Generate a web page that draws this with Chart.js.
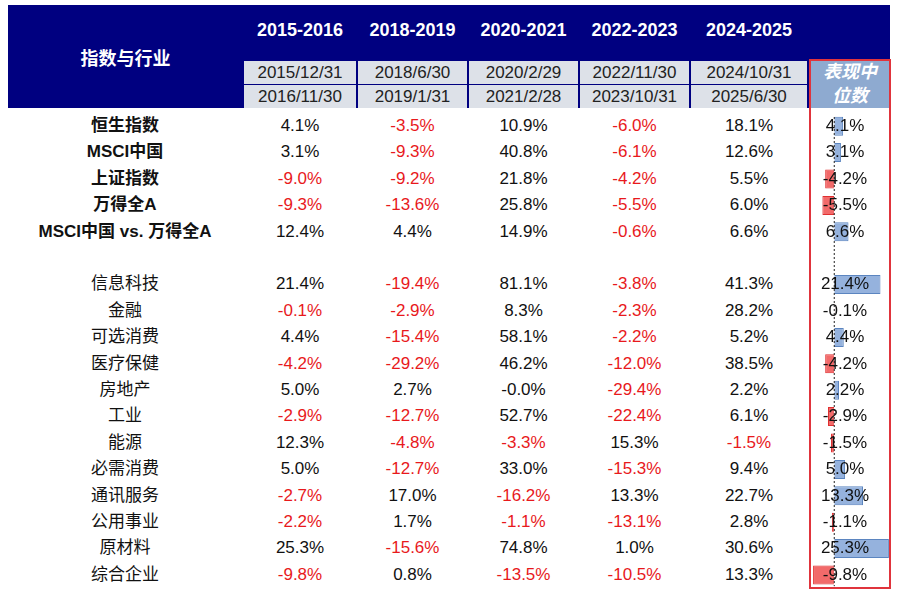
<!DOCTYPE html>
<html>
<head>
<meta charset="utf-8">
<script src="https://cdn.jsdelivr.net/npm/chart.js@4"></script>
<style>
body{margin:0;background:#fff;font-family:"Liberation Sans","Noto Sans CJK SC",sans-serif;}
#wrap{position:relative;width:900px;height:601px;}
.a{position:absolute;text-align:center;white-space:nowrap;}
.hd{background:#000080;}
.w{color:#fff;font-weight:bold;}
.gr{background:#dde1e8;color:#222;font-size:17px;line-height:24px;}
.v{font-size:17px;color:#111;line-height:26px;}
.neg{color:#e8191c;}
.lbl{font-size:17px;color:#111;line-height:26px;width:230px;left:10px;}
</style>
</head>
<body>
<div id="wrap"></div>
<script>
// 表格数据
const periods = [
    { years: '2015-2016', d1: '2015/12/31', d2: '2016/11/30' },
    { years: '2018-2019', d1: '2018/6/30', d2: '2019/1/31' },
    { years: '2020-2021', d1: '2020/2/29', d2: '2021/2/28' },
    { years: '2022-2023', d1: '2022/11/30', d2: '2023/10/31' },
    { years: '2024-2025', d1: '2024/10/31', d2: '2025/6/30' }
];
const rows = [
    { name: '恒生指数', bold: true, vals: [4.1, -3.5, 10.9, -6.0, 18.1], median: 4.1 },
    { name: 'MSCI中国', bold: true, vals: [3.1, -9.3, 40.8, -6.1, 12.6], median: 3.1 },
    { name: '上证指数', bold: true, vals: [-9.0, -9.2, 21.8, -4.2, 5.5], median: -4.2 },
    { name: '万得全A', bold: true, vals: [-9.3, -13.6, 25.8, -5.5, 6.0], median: -5.5 },
    { name: 'MSCI中国 vs. 万得全A', bold: true, vals: [12.4, 4.4, 14.9, -0.6, 6.6], median: 6.6 },
    null,
    { name: '信息科技', vals: [21.4, -19.4, 81.1, -3.8, 41.3], median: 21.4 },
    { name: '金融', vals: [-0.1, -2.9, 8.3, -2.3, 28.2], median: -0.1 },
    { name: '可选消费', vals: [4.4, -15.4, 58.1, -2.2, 5.2], median: 4.4 },
    { name: '医疗保健', vals: [-4.2, -29.2, 46.2, -12.0, 38.5], median: -4.2 },
    { name: '房地产', vals: [5.0, 2.7, '-0.0', -29.4, 2.2], median: 2.2 },
    { name: '工业', vals: [-2.9, -12.7, 52.7, -22.4, 6.1], median: -2.9 },
    { name: '能源', vals: [12.3, -4.8, -3.3, 15.3, -1.5], median: -1.5 },
    { name: '必需消费', vals: [5.0, -12.7, 33.0, -15.3, 9.4], median: 5.0 },
    { name: '通讯服务', vals: [-2.7, 17.0, -16.2, 13.3, 22.7], median: 13.3 },
    { name: '公用事业', vals: [-2.2, 1.7, -1.1, -13.1, 2.8], median: -1.1 },
    { name: '原材料', vals: [25.3, -15.6, 74.8, 1.0, 30.6], median: 25.3 },
    { name: '综合企业', vals: [-9.8, 0.8, -13.5, -10.5, 13.3], median: -9.8 }
];

const wrap = document.getElementById('wrap');
function box(html, css, cls) {
    const d = document.createElement('div');
    d.className = 'a ' + (cls || '');
    d.style.cssText = css;
    d.innerHTML = html;
    wrap.appendChild(d);
    return d;
}
function fmt(v) {
    if (typeof v === 'string') return v + '%';
    return v.toFixed(1) + '%';
}

// 表头
box('', 'left:8px;top:5px;width:882px;height:103px;', 'hd');
box('指数与行业', 'left:8px;top:44px;width:235px;font-size:18px;', 'w');
const colL = [243, 357, 468, 579, 690], colR = [357, 468, 579, 690, 808];
periods.forEach((p, i) => {
    const l = colL[i], w = colR[i] - l;
    box(p.years, `left:${l}px;top:20px;width:${w}px;font-size:18px;`, 'w');
    box(p.d1, `left:${l + 1}px;top:61px;width:${w - 2}px;height:23px;`, 'gr');
    box(p.d2, `left:${l + 1}px;top:85px;width:${w - 2}px;height:23px;`, 'gr');
});
box('表现中<br>位数', 'left:810px;top:60px;width:80px;height:48px;background:#8eaad0;color:#fff;font-weight:bold;font-style:italic;font-size:18px;line-height:24px;');
box('', 'left:809px;top:59px;width:80px;height:530px;border:2px solid #e0343c;box-sizing:border-box;width:82px;');

// 数据行
const rowTop = 113, pitch = 26.4;
rows.forEach((r, i) => {
    if (!r) return;
    const y = rowTop + i * pitch;
    box(r.name, `top:${y}px;font-weight:${r.bold ? 'bold' : 'normal'};`, 'lbl');
    r.vals.forEach((v, j) => {
        const neg = (typeof v === 'string') ? false : v < 0;
        box(fmt(v), `left:${colL[j]}px;top:${y}px;width:${colR[j] - colL[j]}px;`, 'v' + (neg ? ' neg' : ''));
    });
});

// 中位数数据条
const cv = document.createElement('canvas');
const cdiv = box('', `left:812px;top:${rowTop}px;width:78px;height:${pitch * rows.length}px;`);
cdiv.appendChild(cv);
const medians = rows.map(r => r ? r.median : null);

const zeroLine = {
    id: 'zeroLine',
    afterDatasetsDraw(chart) {
        const x = chart.scales.x.getPixelForValue(0), ctx = chart.ctx;
        ctx.save();
        ctx.strokeStyle = '#222';
        ctx.setLineDash([2, 2]);
        ctx.beginPath();
        ctx.moveTo(x, 4);
        ctx.lineTo(x, chart.height - 2);
        ctx.stroke();
        ctx.restore();
    }
};

const medianChart = new Chart(cv, {
    type: 'bar',
    data: {
        labels: rows.map((r, i) => r ? r.name : ''),
        datasets: [{
            data: medians,
            backgroundColor: medians.map(v => v < 0 ? 'rgba(240,80,80,0.85)' : 'rgba(130,165,215,0.85)'),
            borderColor: medians.map(v => v < 0 ? '#e03030' : '#5b85c0'),
            borderWidth: 1,
            barPercentage: 0.72,
            categoryPercentage: 1
        }]
    },
    plugins: [zeroLine],
    options: {
        indexAxis: 'y',
        responsive: true,
        maintainAspectRatio: false,
        animation: false,
        layout: { padding: 0 },
        plugins: { legend: { display: false }, tooltip: { enabled: false } },
        scales: {
            x: { min: -10.3, max: 25.8, display: false },
            y: { display: false }
        }
    }
});

// 中位数文字
rows.forEach((r, i) => {
    if (!r) return;
    box(fmt(r.median), `left:812px;top:${rowTop + i * pitch}px;width:66px;`, 'v');
});
</script>
</body>
</html>
